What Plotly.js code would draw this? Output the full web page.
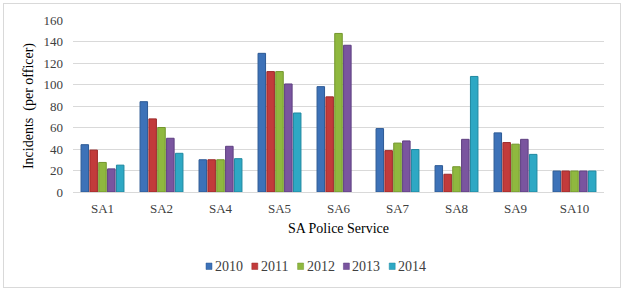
<!DOCTYPE html>
<html><head><meta charset="utf-8">
<script src="https://cdn.plot.ly/plotly-3.0.1.min.js"></script>
<style>
html,body{margin:0;padding:0;background:#fff;}
#chart{position:absolute;left:0;top:0;width:625px;height:292px;}
#frame{position:absolute;left:3px;top:3px;width:616px;height:283px;border:1px solid #d9d9d9;pointer-events:none;}
</style>
</head><body>
<div id="chart"></div><div id="frame"></div>
<script>
const categories = ["SA1","SA2","SA4","SA5","SA6","SA7","SA8","SA9","SA10"];
const years = ["2010","2011","2012","2013","2014"];
const v2010 = [44, 84, 30, 129, 98, 59, 24.5, 55, 19.5];
const v2011 = [39, 68, 30, 112, 88.5, 38.5, 16.5, 46, 19.5];
const v2012 = [27.5, 60, 30, 112, 147.5, 45.5, 23.5, 44.5, 19.5];
const v2013 = [21.5, 50, 42.5, 100.5, 136.5, 47.5, 49, 49, 19.5];
const v2014 = [25, 36, 31, 73.5, null, 39.5, 107.5, 35, 19.5];
const colors = ["#3d72b8","#c23b3b","#8fb83f","#7a559f","#2ea8c4"];
const borders = ["#2d5a95","#9c2a2a","#73962c","#5e3f80","#1f88a0"];
const series = [v2010, v2011, v2012, v2013, v2014];
const font = "Liberation Serif, DejaVu Serif, serif";

const W = 625, H = 292, M = {l: 73, r: 21, t: 20, b: 100};
const pw = W - M.l - M.r, ph = H - M.t - M.b;
const px = x => (x - M.l) / pw;
const py = y => (H - M.b - y) / ph;

const traces = series.map((vals, i) => ({
  type: "bar", name: years[i], x: categories, y: vals,
  marker: {color: colors[i], line: {color: borders[i], width: 1}}
}));

// custom compact legend
const shapes = [], annotations = [];
years.forEach((yr, i) => {
  const x0 = 206 + i * 45.8;
  shapes.push({type: "rect", xref: "paper", yref: "paper",
    x0: px(x0), x1: px(x0 + 6), y0: py(269.5), y1: py(263),
    fillcolor: colors[i], line: {color: borders[i], width: 0.5}});
  annotations.push({xref: "paper", yref: "paper", x: px(x0 + 7), y: py(266.5),
    xanchor: "left", yanchor: "middle", showarrow: false, text: yr,
    font: {family: font, size: 14, color: "#404040"}});
});

const layout = {
  width: W, height: H, margin: M,
  paper_bgcolor: "#fff", plot_bgcolor: "#fff",
  barmode: "group", bargap: 0.25, bargroupgap: 0.15,
  font: {family: font, size: 12, color: "#404040"},
  showlegend: false,
  xaxis: {
    showgrid: false, showline: false, ticks: "", zeroline: false,
    ticklabelstandoff: 7,
    tickfont: {family: font, size: 13, color: "#404040"},
    title: {text: "SA Police Service", font: {family: font, size: 14, color: "#000"}, standoff: 8}
  },
  yaxis: {
    range: [0, 160], dtick: 20, gridcolor: "#d9d9d9", gridwidth: 1,
    zeroline: true, zerolinecolor: "#d9d9d9", zerolinewidth: 1,
    showline: false, ticks: "", ticklabelstandoff: 9,
    tickfont: {family: font, size: 13, color: "#404040"},
    title: {text: "Incidents  (per officer)", font: {family: font, size: 14, color: "#000"}, standoff: 6}
  },
  shapes: shapes, annotations: annotations
};
Plotly.newPlot("chart", traces, layout, {displayModeBar: false, staticPlot: true});
</script>
</body></html>
